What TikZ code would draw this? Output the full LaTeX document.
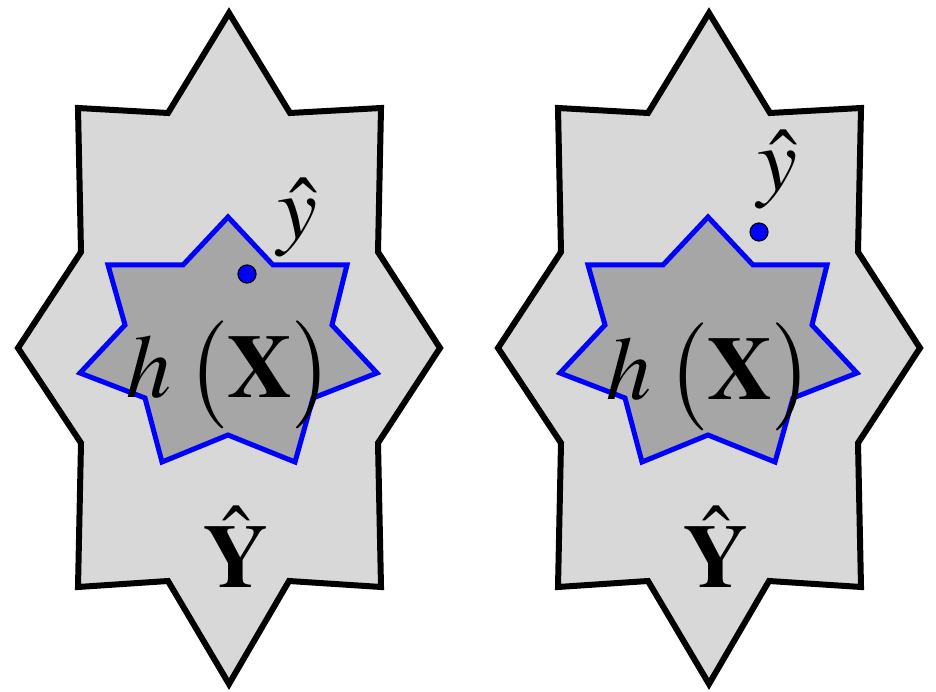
\documentclass[tikz,border=0pt]{standalone}
\usepackage{amsmath,amssymb}
\usepackage{mathptmx}
\usepackage{tikz}
\definecolor{outergray}{HTML}{D8D8D8}
\definecolor{innergray}{HTML}{A6A6A6}
\definecolor{starblue} {HTML}{0000FF}
\newcommand{\vX}{\mathbf{X}}
\newcommand{\hY}{\hat{\mathbf{Y}}}
\newcommand{\hy}{\hat{y}}
% outline of the big (outer) region and of the blue 7-point star
\newcommand{\outerpath}{(229,13) -- (290,113) -- (381,108) -- (378,252) -- (440,348)
  -- (378,443) -- (381,587) -- (289,581) -- (229,684) -- (168,581) -- (78,587)
  -- (81,443) -- (18,348) -- (81,252) -- (78,108) -- (168,113) -- cycle}
\newcommand{\innerpath}{(228,217) -- (273,265) -- (347,265) -- (332,325) -- (377,373)
  -- (313,398) -- (295,462) -- (228,435) -- (162,462) -- (145,398) -- (80,373)
  -- (125,325) -- (108,265) -- (183,265) -- cycle}
\tikzset{
  outerstar/.style ={draw=black, fill=outergray, line width=6pt, line join=miter},
  innerstar/.style ={draw=starblue, fill=innergray, line width=5pt, line join=miter},
  mathlabel/.style ={anchor=base, inner sep=0pt, scale=9},
  pointdot/.style  ={circle, draw=black, fill=starblue, line width=1.2pt,
                     minimum size=18pt, inner sep=0pt},
}

\begin{document}
\begin{tikzpicture}[x=1pt,y=-1pt]
    \useasboundingbox (0,0) rectangle (936,692);

    % ----- left panel (prediction inside h(X)) -----
    \begin{scope}
      \path[outerstar] \outerpath;
      \path[innerstar] \innerpath;
      \node[mathlabel] (hxL) at (230,397) {$h\mkern3mu\bigl(\vX\bigr)$};
      \node[pointdot] (dotL) at (247,274) {};
      \node[mathlabel] (yhL) at (297,239) {$\hy$};
      \node[mathlabel] (YhL) at (236,587) {$\hY$};
    \end{scope}

    % ----- right panel (prediction outside h(X)) -----
    \begin{scope}[xshift=480pt]
      \path[outerstar] \outerpath;
      \path[innerstar] \innerpath;
      \node[mathlabel] (hxR) at (230,399) {$h\mkern3mu\bigl(\vX\bigr)$};
      \node[pointdot] (dotR) at (279,232) {};
      \node[mathlabel] (yhR) at (297,191) {$\hy$};
      \node[mathlabel] (YhR) at (236,587) {$\hY$};
    \end{scope}
  \end{tikzpicture}
\end{document}
